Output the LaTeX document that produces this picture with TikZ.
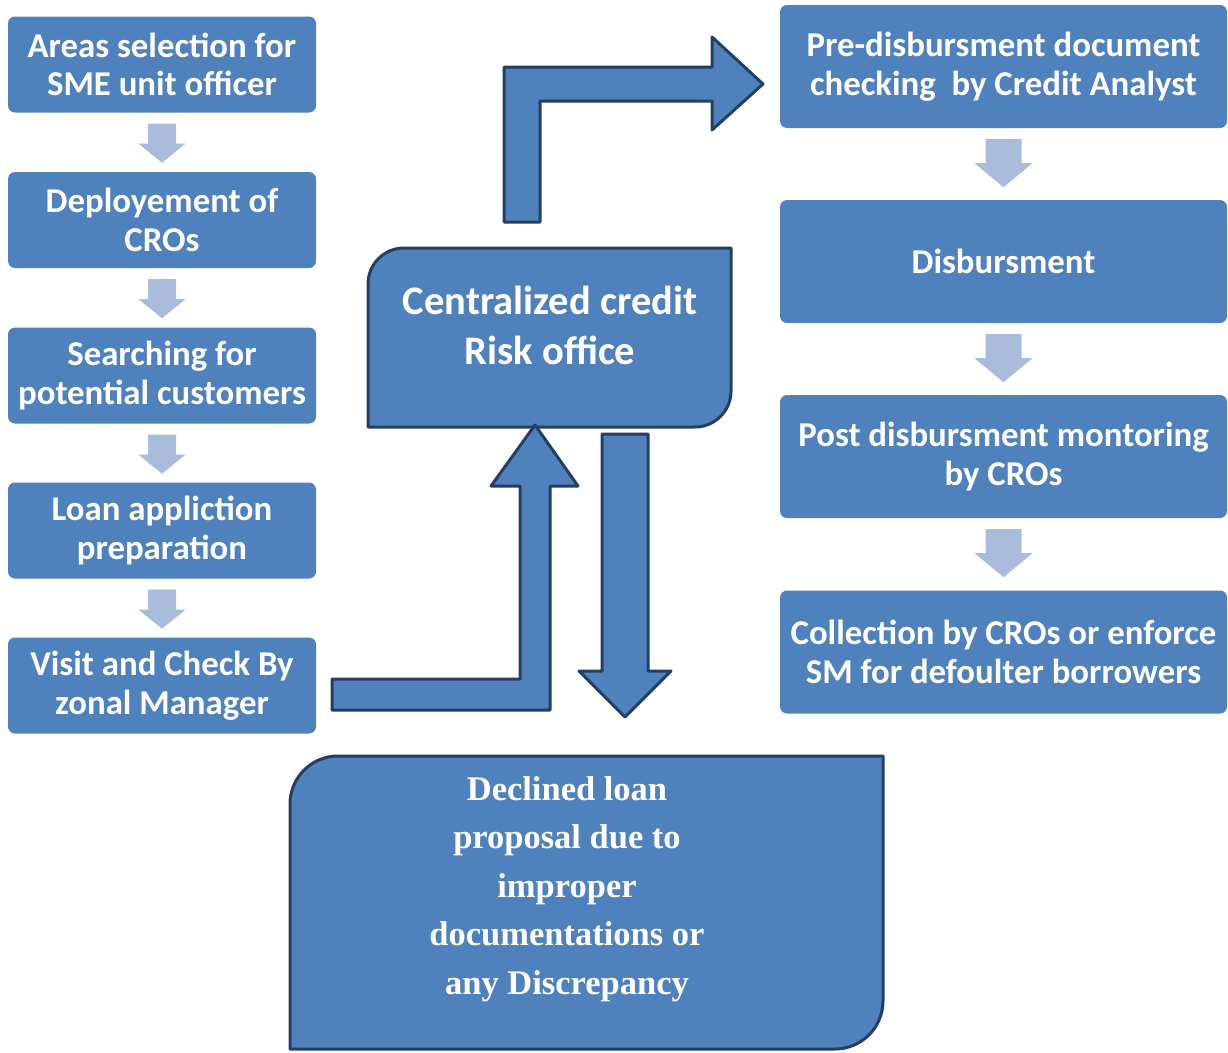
\documentclass[tikz,border=0pt]{standalone}
\usepackage{fontspec}
\setmainfont{Carlito}
\newfontfamily\serifbf{Liberation Serif}
\usetikzlibrary{calc}
\definecolor{boxblue}{HTML}{4F81BD}
\definecolor{edgeblue}{HTML}{243F60}
\definecolor{lightarr}{RGB}{170,188,219}
\tikzset{
  stepbox/.style={fill=boxblue, rounded corners=7pt, text=white, align=center, inner sep=0pt,
    font=\bfseries\fontsize{34.8}{38.5}\selectfont},
  leftbox/.style={stepbox, minimum width=308pt, minimum height=96pt},
  rightbox/.style={stepbox, minimum width=447pt, minimum height=123pt},
  bigshape/.style={fill=boxblue, draw=edgeblue, line width=3pt, line join=round},
  lightarrow/.style={fill=lightarr},
}
\newcommand\dnarrow[6]{%
  \fill[lightarrow] ($(#1)+(-#2,#4)$) -- ++({2*#2},0) -- ++(0,#5) -- ++({#3-#2},0)
     -- ++({-#3},#6) -- ++({-#3},{-#6}) -- ++({#3-#2},0) -- cycle;}
\begin{document}
\begin{tikzpicture}[x=1pt,y=-1pt]
\useasboundingbox[fill=white] (0,0) rectangle (1228,1052);

% left column
\node[leftbox] (b1) at (162,64.5) {Areas selection for\\SME unit officer};
\node[leftbox] (b2) at (162,220) {Deployement of\\CROs};
\node[leftbox] (b3) at (162,375.5) {Searching for\\potential customers};
\node[leftbox] (b4) at (162,530.5) {Loan appliction\\preparation};
\node[leftbox] (b5) at (162,685.5) {Visit and Check By\\zonal Manager};
\dnarrow{b1.south}{14}{23.5}{11}{20}{19}
\dnarrow{b2.south}{14}{23.5}{11}{20}{19}
\dnarrow{b3.south}{14}{23.5}{11}{20}{19}
\dnarrow{b4.south}{14}{23.5}{11}{20}{19}

% right column
\node[rightbox] (r1) at (1003.5,66.5) {Pre-disbursment document\\checking\ \ by Credit Analyst};
\node[rightbox] (r2) at (1003.5,261.5) {Disbursment};
\node[rightbox] (r3) at (1003.5,456.5) {Post disbursment montoring\\by CROs};
\node[rightbox] (r4) at (1003.5,652) {Collection by CROs or enforce\\SM for defoulter borrowers};
\dnarrow{r1.south}{18}{29}{11}{24}{24}
\dnarrow{r2.south}{18}{29}{11}{24}{24}
\dnarrow{r3.south}{18}{29}{11}{24}{24}

% central credit risk office
\draw[bigshape] (368,427) -- (368,284) .. controls (368,264.1) and (384.1,248) .. (404,248)
  -- (731,248) -- (731,391) .. controls (731,410.9) and (714.9,427) .. (695,427) -- cycle;
\node[text=white, align=center, font=\bfseries\fontsize{40.5}{50}\selectfont] (cro) at (550,325) {Centralized credit\\Risk office};

% declined box
\draw[bigshape] (290,1049) -- (290,804) .. controls (290,777.5) and (311.5,756) .. (338,756)
  -- (883,756) -- (883,1001) .. controls (883,1027.5) and (861.5,1049) .. (835,1049) -- cycle;
\node[text=white, align=center, font=\serifbf\bfseries\fontsize{34.5}{48.5}\selectfont] (dec) at (567,889)
  {Declined loan\\proposal due to\\improper\\documentations or\\any Discrepancy};

% bent arrow to pre-disbursment
\draw[bigshape] (504,222) -- (504,67) -- (712,67) -- (712,37) -- (763,84) -- (712,130)
  -- (712,101) -- (540,101) -- (540,222) -- cycle;
% bent arrow from zonal manager up to CRO
\draw[bigshape] (332,679) -- (520,679) -- (520,486) -- (491,486) -- (535,425) -- (578,486)
  -- (550,486) -- (550,710) -- (332,710) -- cycle;
% down arrow to declined
\draw[bigshape] (602,434) -- (648,434) -- (648,671) -- (671,671) -- (625,717) -- (579,671)
  -- (602,671) -- cycle;
\end{tikzpicture}
\end{document}
